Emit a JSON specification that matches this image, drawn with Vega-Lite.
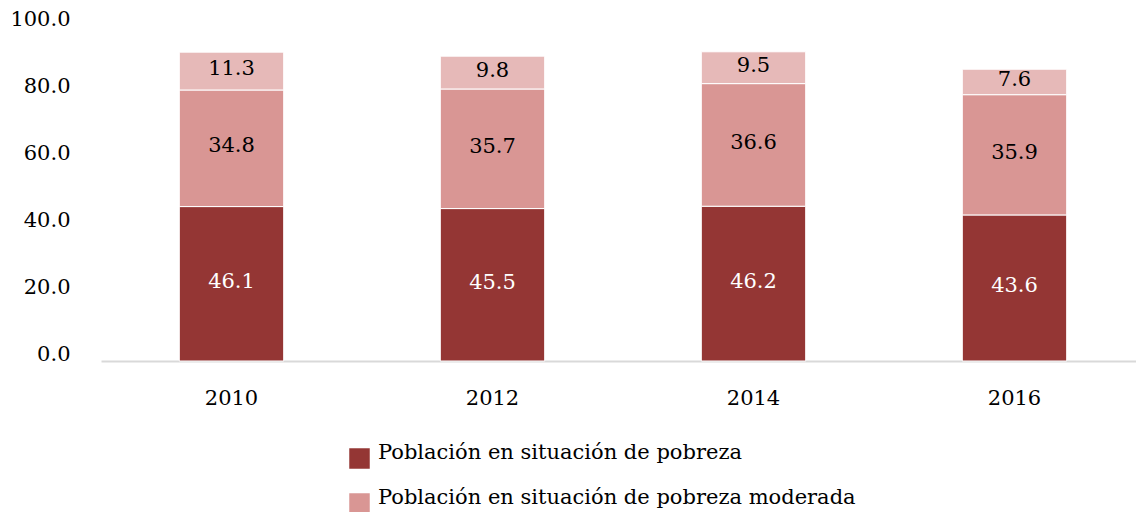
{
  "$schema": "https://vega.github.io/schema/vega-lite/v6.json",
  "width": 1035,
  "height": 335,
  "autosize": {"type": "none"},
  "padding": {"left": 101, "top": 26, "right": 0, "bottom": 151},
  "background": "white",
  "config": {
    "font": "DejaVu Serif",
    "view": {"stroke": null}
  },
  "data": {
    "values": [
      {"year": "2010", "cat": "Población en situación de pobreza", "order": 1, "value": 46.1},
      {"year": "2010", "cat": "Población en situación de pobreza moderada", "order": 2, "value": 34.8},
      {"year": "2010", "cat": "Población en situación de pobreza extrema", "order": 3, "value": 11.3},
      {"year": "2012", "cat": "Población en situación de pobreza", "order": 1, "value": 45.5},
      {"year": "2012", "cat": "Población en situación de pobreza moderada", "order": 2, "value": 35.7},
      {"year": "2012", "cat": "Población en situación de pobreza extrema", "order": 3, "value": 9.8},
      {"year": "2014", "cat": "Población en situación de pobreza", "order": 1, "value": 46.2},
      {"year": "2014", "cat": "Población en situación de pobreza moderada", "order": 2, "value": 36.6},
      {"year": "2014", "cat": "Población en situación de pobreza extrema", "order": 3, "value": 9.5},
      {"year": "2016", "cat": "Población en situación de pobreza", "order": 1, "value": 43.6},
      {"year": "2016", "cat": "Población en situación de pobreza moderada", "order": 2, "value": 35.9},
      {"year": "2016", "cat": "Población en situación de pobreza extrema", "order": 3, "value": 7.6}
    ]
  },
  "transform": [
    {"stack": "value", "groupby": ["year"], "sort": [{"field": "order"}], "as": ["y0", "y1"]},
    {"calculate": "(datum.y0 + datum.y1) / 2", "as": "ymid"}
  ],
  "encoding": {
    "x": {
      "field": "year",
      "type": "nominal",
      "scale": {"range": [0, 1044], "paddingInner": 0.6, "paddingOuter": 0.3},
      "axis": {
        "title": null,
        "labelAngle": 0,
        "labelFontSize": 21,
        "labelColor": "black",
        "labelPadding": 26,
        "ticks": false,
        "domainColor": "#d9d9d9",
        "domainWidth": 2
      }
    }
  },
  "layer": [
    {
      "mark": {"type": "bar", "stroke": "white", "strokeWidth": 1},
      "encoding": {
        "y": {
          "field": "y0",
          "type": "quantitative",
          "scale": {"domain": [0, 100], "nice": false},
          "axis": {
            "title": null,
            "values": [0, 20, 40, 60, 80, 100],
            "format": ".1f",
            "labelFontSize": 21,
            "labelColor": "black",
            "labelPadding": 31,
            "labelOffset": -7,
            "domain": false,
            "ticks": false,
            "grid": false
          }
        },
        "y2": {"field": "y1"},
        "color": {
          "field": "cat",
          "type": "nominal",
          "scale": {
            "domain": ["Población en situación de pobreza", "Población en situación de pobreza moderada", "Población en situación de pobreza extrema"],
            "range": ["#943634", "#D99694", "#E6B9B8"]
          },
          "legend": {
            "values": ["Población en situación de pobreza", "Población en situación de pobreza moderada"],
            "orient": "none",
            "legendX": 248,
            "legendY": 422,
            "title": null,
            "symbolType": "square",
            "symbolSize": 420,
            "symbolStrokeWidth": 0,
            "labelFontSize": 21,
            "labelColor": "black",
            "labelBaseline": "alphabetic",
            "labelLimit": 0,
            "rowPadding": 17,
            "labelOffset": 8
          }
        }
      }
    },
    {
      "mark": {"type": "text", "fontSize": 21, "baseline": "middle", "dy": -2},
      "encoding": {
        "y": {"field": "ymid", "type": "quantitative"},
        "text": {"field": "value", "type": "quantitative", "format": ".1f"},
        "color": {
          "condition": {"test": "datum.cat === 'Población en situación de pobreza'", "value": "white"},
          "value": "black"
        }
      }
    }
  ]
}
